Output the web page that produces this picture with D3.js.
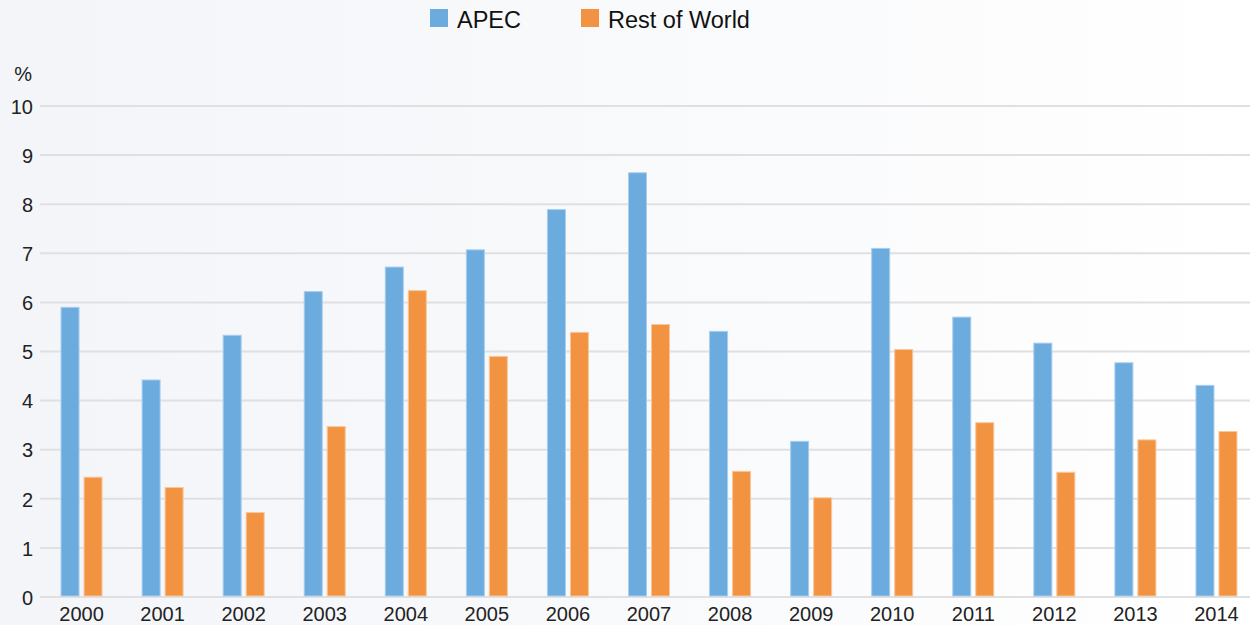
<!DOCTYPE html>
<html>
<head>
<meta charset="utf-8">
<script src="https://cdn.jsdelivr.net/npm/d3@7"></script>
<style>
  html, body { margin: 0; padding: 0; background: #fff; }
  svg { display: block; font-family: "Liberation Sans", Arial, Helvetica, sans-serif; }
</style>
</head>
<body>
<svg id="chart" width="1250" height="625"></svg>
<script>
const years = ["2000","2001","2002","2003","2004","2005","2006","2007","2008","2009","2010","2011","2012","2013","2014"];
const seriesNames = ["APEC", "Rest of World"];
const apec = [5.9, 4.42, 5.33, 6.22, 6.72, 7.07, 7.89, 8.64, 5.41, 3.17, 7.1, 5.7, 5.17, 4.77, 4.31];
const restOfWorld = [2.44, 2.23, 1.72, 3.47, 6.24, 4.9, 5.39, 5.55, 2.56, 2.02, 5.04, 3.55, 2.54, 3.2, 3.37];
const yTicks = [0, 1, 2, 3, 4, 5, 6, 7, 8, 9, 10];
const colors = ["#6babde", "#f29341"];
const strokes = ["#a9cdee", "#f8c79c"];

const svg = d3.select("#chart");
const W = 1250, H = 625;

// background gradient
const defs = svg.append("defs");
const grad = defs.append("linearGradient").attr("id", "bg").attr("x1", "0").attr("x2", "1").attr("y1", "0").attr("y2", "0");
grad.append("stop").attr("offset", "0").attr("stop-color", "#f3f5f9");
grad.append("stop").attr("offset", "0.45").attr("stop-color", "#f8f9fb");
grad.append("stop").attr("offset", "1").attr("stop-color", "#ffffff");
svg.append("rect").attr("width", W).attr("height", H).attr("fill", "url(#bg)");

const x = d3.scaleBand().domain(years).range([41, 1257]).paddingInner(0).paddingOuter(0);
const y = d3.scaleLinear().domain([0, 10]).range([597, 106]);

// gridlines
svg.append("g").selectAll("line").data(yTicks).join("line")
  .attr("x1", 40).attr("x2", W)
  .attr("y1", d => y(d)).attr("y2", d => y(d))
  .attr("stroke", "#e0e0e2").attr("stroke-width", 2);

// y axis labels
const yAxis = d3.axisLeft(y).tickValues(yTicks).tickSize(0).tickPadding(0).tickFormat(d3.format("d"));
const gy = svg.append("g").attr("transform", "translate(33,0)").call(yAxis);
gy.select(".domain").remove();
gy.selectAll("text").attr("font-size", 20).attr("fill", "#222").attr("font-family", "Liberation Sans, Arial, sans-serif").attr("dy", "0.36em");

svg.append("text").attr("x", 32).attr("y", 81).attr("text-anchor", "end")
  .attr("font-size", 20).attr("fill", "#222").text("%");

// bars
const barW = 18, gap = 5;
const series = [apec, restOfWorld];
series.forEach((vals, si) => {
  svg.append("g").selectAll("rect").data(vals).join("rect")
    .attr("x", (d, i) => x(years[i]) + x.bandwidth() / 2 + (si === 0 ? -(barW + gap / 2) : gap / 2))
    .attr("y", d => y(d))
    .attr("width", barW)
    .attr("height", d => y(0) - y(d) - 1)
    .attr("fill", colors[si])
    .attr("stroke", strokes[si])
    .attr("stroke-width", 1);
});

// x axis labels
const xAxis = d3.axisBottom(x).tickSize(0).tickPadding(0);
const gx = svg.append("g").attr("transform", "translate(0,614)").call(xAxis);
gx.select(".domain").remove();
gx.selectAll("text").attr("font-size", 20).attr("fill", "#222").attr("font-family", "Liberation Sans, Arial, sans-serif").attr("dy", "0.36em");

// legend
const legendX = [430, 581];
const lg = svg.append("g");
seriesNames.forEach((name, i) => {
  lg.append("rect").attr("x", legendX[i]).attr("y", 9).attr("width", 18).attr("height", 18).attr("fill", colors[i]);
  lg.append("text").attr("x", legendX[i] + 27).attr("y", 27.5).attr("font-size", 23.5).attr("fill", "#111").text(name);
});
</script>
</body>
</html>
